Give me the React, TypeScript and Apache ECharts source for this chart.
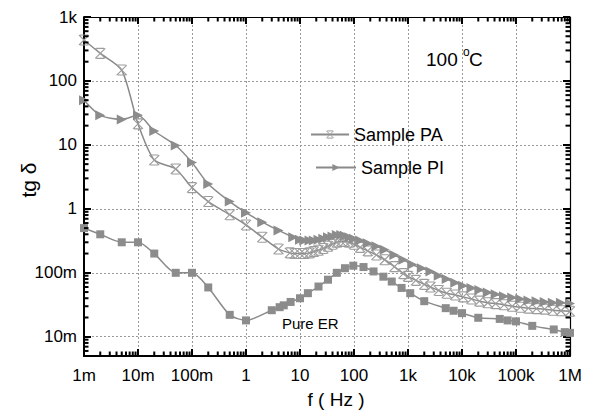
import React, { useEffect, useRef } from 'react';
import * as echarts from 'echarts';

// ---- data (frequency in Hz, tg delta) ----
const freqER = [0.001, 0.002, 0.005, 0.01, 0.02, 0.05, 0.1, 0.2, 0.5, 1, 3, 4.2, 5, 6.7, 10, 14, 22, 33, 48, 68, 97, 150, 230, 350, 500, 760, 1100, 2000, 5000, 7000, 10000, 20000, 50000, 70000, 100000, 200000, 500000, 800000, 1000000];
const tgER = [0.5, 0.4, 0.3, 0.3, 0.2, 0.1, 0.1, 0.059, 0.022, 0.018, 0.026, 0.029, 0.031, 0.035, 0.04, 0.048, 0.061, 0.078, 0.1, 0.118, 0.129, 0.123, 0.105, 0.087, 0.073, 0.058, 0.048, 0.036, 0.028, 0.0255, 0.0234, 0.0198, 0.019, 0.018, 0.0174, 0.0148, 0.013, 0.0118, 0.0115];

const freqPA = [0.001, 0.002, 0.005, 0.01, 0.02, 0.05, 0.1, 0.2, 0.5, 1, 2, 4, 6.5, 8, 10, 12, 15, 18, 22, 27, 33, 40, 48, 58, 68, 82, 100, 130, 180, 260, 370, 560, 820, 1000, 1400, 2000, 2600, 3700, 5200, 7500, 10500, 15000, 21000, 30000, 42000, 60000, 85000, 120000, 170000, 240000, 340000, 480000, 680000, 1000000];
const tgPA = [437, 270, 148, 21.3, 5.8, 4.2, 2.15, 1.3, 0.81, 0.56, 0.36, 0.235, 0.205, 0.2, 0.2, 0.2, 0.205, 0.215, 0.225, 0.24, 0.26, 0.28, 0.3, 0.31, 0.31, 0.3, 0.28, 0.25, 0.22, 0.19, 0.16, 0.125, 0.097, 0.088, 0.076, 0.066, 0.06, 0.053, 0.048, 0.045, 0.042, 0.039, 0.036, 0.034, 0.033, 0.0316, 0.03, 0.029, 0.028, 0.0275, 0.027, 0.026, 0.0255, 0.025];

const freqPI = [0.001, 0.002, 0.005, 0.01, 0.02, 0.05, 0.1, 0.2, 0.5, 1, 2, 4, 7.5, 10, 12, 15, 18, 22, 27, 33, 40, 48, 58, 68, 82, 100, 130, 180, 260, 370, 560, 820, 1200, 1800, 2600, 3700, 5200, 7500, 10500, 15000, 21000, 30000, 42000, 60000, 85000, 120000, 170000, 240000, 340000, 480000, 680000, 1000000];
const tgPI = [50, 29, 25, 29, 16.5, 9.8, 5.3, 2.45, 1.3, 0.87, 0.62, 0.46, 0.36, 0.33, 0.32, 0.32, 0.32, 0.33, 0.34, 0.36, 0.37, 0.39, 0.39, 0.38, 0.36, 0.34, 0.32, 0.29, 0.26, 0.23, 0.19, 0.16, 0.135, 0.118, 0.105, 0.09, 0.08, 0.07, 0.063, 0.058, 0.054, 0.049, 0.046, 0.043, 0.041, 0.039, 0.037, 0.036, 0.035, 0.034, 0.034, 0.033];

const xTickValues = [0.001, 0.01, 0.1, 1, 10, 100, 1000, 10000, 100000, 1000000];
const xTickLabels = ['1m', '10m', '100m', '1', '10', '100', '1k', '10k', '100k', '1M'];
const yTickValues = [0.01, 0.1, 1, 10, 100, 1000];
const yTickLabels = ['10m', '100m', '1', '10', '100', '1k'];

const X_MIN = 0.001;
const X_MAX = 1000000;
const Y_MIN = 0.005;
const Y_MAX = 1000;

const FONT = 'Liberation Sans, Arial, sans-serif';
const LINE_COLOR = '#8a8a8a';
const MARK_COLOR = '#8c8c8c';
const XBOX_COLOR = '#9c9c9c';

const SYM_TRI = 'path://M0,0L10,5L0,10Z';
const SYM_XBOX = 'path://M0,0L10,10M10,0L0,10M1,0L9,0M1,10L9,10';

const makeFmt = (vals: number[], labels: string[]) => (v: number) => {
  const i = vals.findIndex((t) => Math.abs(Math.log10(t) - Math.log10(v)) < 0.01);
  return i >= 0 ? labels[i] : '';
};

const zip = (xs: number[], ys: number[]) => xs.map((x, i) => [x, ys[i]]);

export default function App() {
  const ref = useRef<HTMLDivElement>(null);

  useEffect(() => {
    if (!ref.current) return;
    const chart = echarts.init(ref.current, undefined, { renderer: 'svg' });

    const texts: any[] = [
      {
        type: 'text',
        x: 28,
        y: 180,
        rotation: Math.PI / 2,
        style: { text: 'tg δ', fontSize: 21, fontFamily: FONT, fill: '#000', align: 'center', verticalAlign: 'middle' },
      },
      {
        type: 'text',
        x: 336,
        y: 399,
        style: { text: 'f ( Hz )', fontSize: 19, fontFamily: FONT, fill: '#000', align: 'center', verticalAlign: 'middle' },
      },
      {
        type: 'text',
        x: 426,
        y: 59,
        style: { text: '100', fontSize: 19, fontFamily: FONT, fill: '#000', align: 'left', verticalAlign: 'middle' },
      },
      {
        type: 'text',
        x: 463,
        y: 52,
        style: { text: 'o', fontSize: 12, fontFamily: FONT, fill: '#000', align: 'left', verticalAlign: 'middle' },
      },
      {
        type: 'text',
        x: 469,
        y: 59,
        style: { text: 'C', fontSize: 19, fontFamily: FONT, fill: '#000', align: 'left', verticalAlign: 'middle' },
      },
      {
        type: 'text',
        x: 282,
        y: 323,
        style: { text: 'Pure ER', fontSize: 15, fontFamily: FONT, fill: '#000', align: 'left', verticalAlign: 'middle' },
      },
    ];

    const tickStyle = { color: '#000', width: 2 };

    const option: any = {
      animation: false,
      backgroundColor: '#fff',
      grid: { left: 84, right: 22, top: 17, bottom: 56, containLabel: false },
      legend: [
        {
          data: ['Sample PA'],
          left: 310,
          top: 125.5,
          padding: 0,
          itemWidth: 38,
          itemHeight: 9,
          itemStyle: { color: 'none', borderColor: XBOX_COLOR, borderWidth: 1 },
          textStyle: { fontSize: 18, fontFamily: FONT, color: '#000' },
        },
        {
          data: ['Sample PI'],
          left: 315,
          top: 158.5,
          padding: 0,
          itemWidth: 40,
          itemHeight: 9,
          textStyle: { fontSize: 18, fontFamily: FONT, color: '#000' },
        },
      ],
      xAxis: [
        {
          type: 'log',
          min: X_MIN,
          max: X_MAX,
          splitNumber: 10,
          position: 'bottom',
          axisLine: { lineStyle: { color: '#000', width: 2 } },
          axisTick: { show: true, inside: true, length: 7, lineStyle: tickStyle },
          axisLabel: { formatter: makeFmt(xTickValues, xTickLabels), fontSize: 17, fontFamily: FONT, color: '#000', margin: 11 },
          splitLine: { show: true, lineStyle: { type: [2, 2], color: '#9a9a9a', width: 1 } },
        },
        {
          type: 'log',
          min: X_MIN,
          max: X_MAX,
          splitNumber: 10,
          position: 'top',
          axisLine: { lineStyle: { color: '#000', width: 1.2 } },
          axisTick: { show: true, inside: true, length: 7, lineStyle: tickStyle },
          axisLabel: { show: false },
          splitLine: { show: false },
        },
      ],
      yAxis: [
        {
          type: 'log',
          min: Y_MIN,
          max: Y_MAX,
          splitNumber: 10,
          position: 'left',
          axisLine: { lineStyle: { color: '#000', width: 2 } },
          axisTick: { show: true, inside: true, length: 7, lineStyle: tickStyle },
          axisLabel: { formatter: makeFmt(yTickValues, yTickLabels), fontSize: 17, fontFamily: FONT, color: '#000', margin: 7 },
          splitLine: { show: true, lineStyle: { type: [2, 2], color: '#9a9a9a', width: 1 } },
        },
        {
          type: 'log',
          min: Y_MIN,
          max: Y_MAX,
          splitNumber: 10,
          position: 'right',
          axisLine: { lineStyle: { color: '#000', width: 1.2 } },
          axisTick: { show: true, inside: true, length: 7, lineStyle: tickStyle },
          axisLabel: { show: false },
          splitLine: { show: false },
        },
      ],
      series: [
        {
          name: 'Pure ER',
          type: 'line',
          data: zip(freqER, tgER),
          smooth: 0.25,
          symbol: 'rect',
          symbolSize: 8,
          lineStyle: { color: LINE_COLOR, width: 1.5 },
          itemStyle: { color: MARK_COLOR },
          z: 3,
        },
        {
          name: 'Sample PA',
          type: 'line',
          data: zip(freqPA, tgPA),
          smooth: 0.25,
          symbol: SYM_XBOX,
          symbolSize: 10,
          lineStyle: { color: LINE_COLOR, width: 1.5 },
          itemStyle: { color: 'none', borderColor: XBOX_COLOR, borderWidth: 1.1 },
          z: 3,
        },
        {
          name: 'Sample PI',
          type: 'line',
          data: zip(freqPI, tgPI),
          smooth: 0.25,
          symbol: SYM_TRI,
          symbolSize: 10,
          lineStyle: { color: LINE_COLOR, width: 1.5 },
          itemStyle: { color: MARK_COLOR },
          z: 3,
        },
      ],
      graphic: texts,
    };

    chart.setOption(option);

    // minor (log) ticks on all four sides, placed through the chart's own axes
    const ticks: any[] = [];
    const toPt = (x: number, y: number) => chart.convertToPixel({ gridIndex: 0 }, [x, y]) as number[];
    const p0 = toPt(X_MIN, Y_MIN);
    const p1 = toPt(X_MAX, Y_MAX);
    const left = p0[0];
    const bottom = p0[1];
    const right = p1[0];
    const top = p1[1];
    const L = 4.5;
    const W = 2;
    for (let k = -4; k < 7; k++) {
      for (let m = 2; m < 10; m++) {
        const v = m * Math.pow(10, k);
        if (v > X_MIN && v < X_MAX) {
          const px = toPt(v, 1)[0];
          ticks.push({ type: 'rect', silent: true, z: 100, shape: { x: px - W / 2, y: bottom - L, width: W, height: L }, style: { fill: '#000' } });
          ticks.push({ type: 'rect', silent: true, z: 100, shape: { x: px - W / 2, y: top, width: W, height: L }, style: { fill: '#000' } });
        }
        if (v > Y_MIN && v < Y_MAX) {
          const py = toPt(1, v)[1];
          ticks.push({ type: 'rect', silent: true, z: 100, shape: { x: left, y: py - W / 2, width: L, height: W }, style: { fill: '#000' } });
          ticks.push({ type: 'rect', silent: true, z: 100, shape: { x: right - L, y: py - W / 2, width: L, height: W }, style: { fill: '#000' } });
        }
      }
    }
    chart.setOption({ graphic: [...texts, ...ticks] });

    return () => chart.dispose();
  }, []);

  return <div ref={ref} style={{ width: 592, height: 412, position: 'absolute', left: 0, top: 0 }} />;
}
